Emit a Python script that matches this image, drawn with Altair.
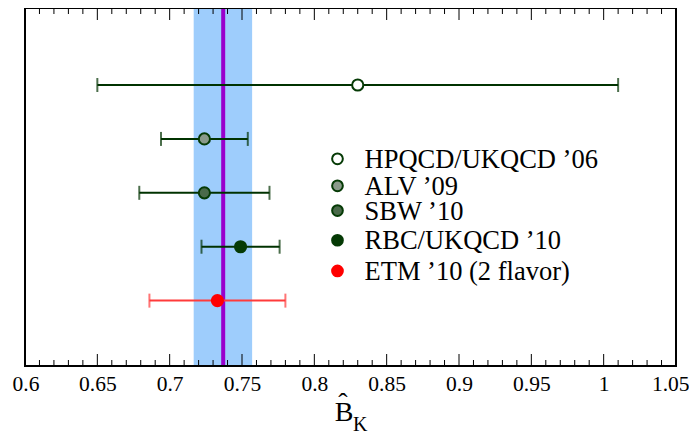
import altair as alt
import pandas as pd

# ---- data ----
labels = ["HPQCD/UKQCD \u201906", "ALV \u201909", "SBW \u201910", "RBC/UKQCD \u201910", "ETM \u201910 (2 flavor)"]
values = [0.830, 0.724, 0.724, 0.749, 0.733]
err_lo = [0.650, 0.694, 0.679, 0.722, 0.686]
err_hi = [1.010, 0.754, 0.769, 0.776, 0.780]
rows = [0, 1, 2, 3, 4]
fills = ["#ffffff", "#8a9a8a", "#4a6a4a", "#053a05", "#ff0000"]
strokes = ["#053a05", "#053a05", "#053a05", "#053a05", "#ff0000"]
bar_colors = ["#003200", "#003200", "#003200", "#003200", "#ff3b3b"]

legend_rows = [1.37, 1.87, 2.33, 2.88, 3.45]
legend_marker_x = [0.816] * 5
legend_text_x = [0.8347] * 5

band_lo = [0.7166]
band_hi = [0.757]
avg_line = [0.737]

major_ticks = [0.6, 0.65, 0.7, 0.75, 0.8, 0.85, 0.9, 0.95, 1.0, 1.05]
minor_ticks = [round(0.6 + 0.01 * i, 2) for i in range(46)]
minor_ticks = [t for t in minor_ticks if round(t * 100) % 5 != 0]

W, H = 651, 358
FONT = "Liberation Serif, Times New Roman, Times, serif"

df = pd.DataFrame({"label": labels, "value": values, "lo": err_lo, "hi": err_hi,
                   "row": rows, "fill": fills, "stroke": strokes, "bar": bar_colors})
leg = pd.DataFrame({"label": labels, "row": legend_rows, "mx": legend_marker_x,
                    "tx": legend_text_x, "fill": fills, "stroke": strokes})

xscale = alt.Scale(domain=[0.6, 1.05], nice=False, zero=False)
yscale = alt.Scale(domain=[-1.429, 5.213], reverse=True, nice=False, zero=False)

band = alt.Chart(pd.DataFrame({"lo": band_lo, "hi": band_hi})).mark_rect(color="#9ecdfc").encode(
    x=alt.X("lo:Q", scale=xscale,
            axis=alt.Axis(values=major_ticks, format="~g", ticks=False, domain=False, grid=False,
                          labelFont=FONT, labelFontSize=21.5, labelColor="black", labelPadding=7,
                          labelFlush=True, labelFlushOffset=13, title="")),
    x2="hi:Q",
    y=alt.value(0), y2=alt.value(H),
)

avg = alt.Chart(pd.DataFrame({"v": avg_line})).mark_rule(color="#9900cc", strokeWidth=4).encode(
    x=alt.X("v:Q", scale=xscale), y=alt.value(0), y2=alt.value(H)
)

bars = alt.Chart(df).mark_rule(strokeWidth=2).encode(
    x=alt.X("lo:Q", scale=xscale), x2="hi:Q",
    y=alt.Y("row:Q", scale=yscale, axis=None),
    color=alt.Color("bar:N", scale=None),
)
cap_lo = alt.Chart(df).mark_tick(orient="vertical", size=14, thickness=2).encode(
    x=alt.X("lo:Q", scale=xscale), y=alt.Y("row:Q", scale=yscale, axis=None),
    color=alt.Color("bar:N", scale=None),
)
cap_hi = alt.Chart(df).mark_tick(orient="vertical", size=14, thickness=2).encode(
    x=alt.X("hi:Q", scale=xscale), y=alt.Y("row:Q", scale=yscale, axis=None),
    color=alt.Color("bar:N", scale=None),
)
pts = alt.Chart(df).mark_point(shape="circle", filled=True, size=125, strokeWidth=2, opacity=1).encode(
    x=alt.X("value:Q", scale=xscale), y=alt.Y("row:Q", scale=yscale, axis=None),
    fill=alt.Fill("fill:N", scale=None), stroke=alt.Stroke("stroke:N", scale=None),
)

leg_pts = alt.Chart(leg).mark_point(shape="circle", filled=True, size=115, strokeWidth=2, opacity=1).encode(
    x=alt.X("mx:Q", scale=xscale), y=alt.Y("row:Q", scale=yscale, axis=None),
    fill=alt.Fill("fill:N", scale=None), stroke=alt.Stroke("stroke:N", scale=None),
)
leg_txt = alt.Chart(leg).mark_text(align="left", baseline="middle", font=FONT, fontSize=26.5,
                                   color="black", dy=1).encode(
    x=alt.X("tx:Q", scale=xscale), y=alt.Y("row:Q", scale=yscale, axis=None), text="label:N"
)

def tick_layer(vals, length, top):
    d = pd.DataFrame({"t": vals})
    y0, y1 = (0, length) if top else (H, H - length)
    return alt.Chart(d).mark_rule(color="black", strokeWidth=1).encode(
        x=alt.X("t:Q", scale=xscale), y=alt.value(y0), y2=alt.value(y1)
    )

ticks = [tick_layer(major_ticks, 12, True), tick_layer(major_ticks, 12, False),
         tick_layer(minor_ticks, 6, True), tick_layer(minor_ticks, 6, False)]

frame = alt.Chart(pd.DataFrame({"a": [0]})).mark_rect(fillOpacity=0, stroke="black", strokeWidth=2).encode(
    x=alt.value(0), x2=alt.value(W), y=alt.value(0), y2=alt.value(H)
)

t_b = alt.Chart(pd.DataFrame({"t": ["B"]})).mark_text(font=FONT, fontSize=28, color="black",
                                                       align="center", baseline="alphabetic").encode(
    text="t:N", x=alt.value(319), y=alt.value(413))
t_hat = alt.Chart(pd.DataFrame({"t": ["\u02c6"]})).mark_text(font=FONT, fontSize=28, color="black",
                                                              align="center", baseline="alphabetic").encode(
    text="t:N", x=alt.value(318), y=alt.value(404))
t_k = alt.Chart(pd.DataFrame({"t": ["K"]})).mark_text(font=FONT, fontSize=20, color="black",
                                                       align="left", baseline="alphabetic").encode(
    text="t:N", x=alt.value(328), y=alt.value(423))

chart = alt.layer(band, avg, bars, cap_lo, cap_hi, pts, leg_pts, leg_txt, *ticks, frame, t_b, t_hat, t_k).properties(
    width=W, height=H,
    autosize=alt.AutoSizeParams(type="none"),
    padding={"left": 17, "top": 0, "right": 13, "bottom": 68},
).configure_view(stroke=None)

chart.save("out.html", embed_options={"renderer": "svg", "actions": False})
